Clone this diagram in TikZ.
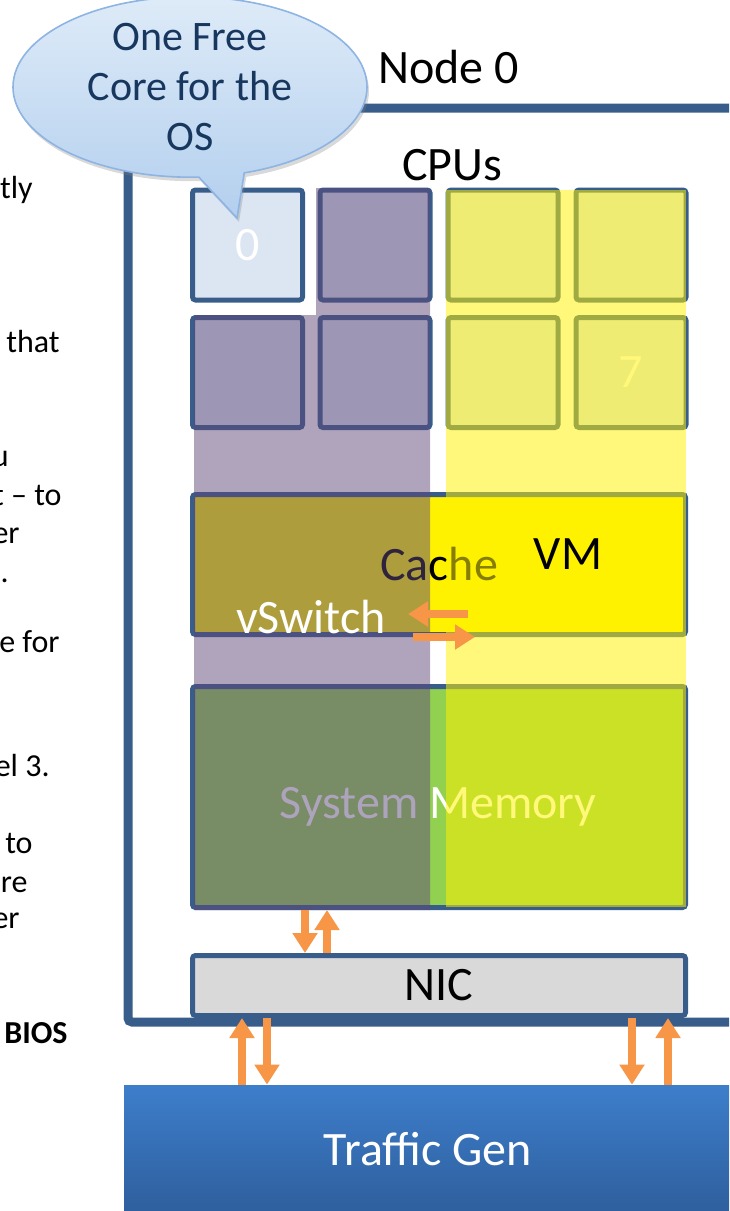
\documentclass[tikz,border=0pt]{standalone}
\usepackage{fontspec}
\setmainfont{Carlito}
\usetikzlibrary{shapes.callouts,shadows,arrows.meta}

\definecolor{frameblue}{HTML}{385D8A}
\definecolor{cpufill}{HTML}{DCE6F2}
\definecolor{vswpurple}{HTML}{5F497A}
\definecolor{memgreen}{HTML}{92D050}
\definecolor{nicgray}{HTML}{D9D9D9}
\definecolor{flow}{HTML}{F79646}
\definecolor{noteline}{HTML}{8EB4E3}
\definecolor{notetop}{HTML}{DEEBF8}
\definecolor{notebottom}{HTML}{B3CFEE}
\definecolor{notetext}{HTML}{17375E}
\definecolor{gentop}{HTML}{3D7ECB}
\definecolor{genbottom}{HTML}{2E5E9C}

\tikzset{
  bigtext/.style={font=\fontsize{24}{29}\selectfont, inner sep=0pt},
  sidetext/.style={font=\fontsize{16}{19}\selectfont, anchor=base east, inner sep=0pt},
  cpubox/.style={draw=frameblue, fill=cpufill, line width=2.5pt, rounded corners=1.5pt,
    minimum width=55pt, minimum height=55pt, bigtext, text=white},
  unitbox/.style={draw=frameblue, line width=2.5pt, rounded corners=1.5pt,
    minimum width=246.5pt, bigtext},
  flowarrow/.style={draw=flow, line width=4pt, -{Triangle[width=12pt,length=10pt]}},
}

\begin{document}
\begin{tikzpicture}[x=0.5pt,y=-0.5pt]
\useasboundingbox (0,0) rectangle (729,1211);
\clip (0,0) rectangle (729,1211);

% text running in from the left
\node[sidetext] (frag1) at (33,198) {tly};
\node[sidetext] (frag2) at (60,352) {that};
\node[sidetext] (frag3) at (9,466) {u};
\node[sidetext] (frag4) at (62,505) {t -- to};
\node[sidetext] (frag5) at (20,543) {er};
\node[sidetext] (frag6) at (9,582) {.};
\node[sidetext] (frag7) at (60,652) {e for};
\node[sidetext] (frag8) at (50,776) {el 3.};
\node[sidetext] (frag9) at (33,853) {to};
\node[sidetext] (frag10) at (28,892) {are};
\node[sidetext] (frag11) at (20,928) {er};
\node[sidetext, font=\fontsize{16}{19}\selectfont\bfseries] (frag12) at (68,1043) {BIOS};

% node 0 frame
\draw[frameblue, line width=4.5pt, rounded corners=2pt] (760,108) -- (128,108) -- (128,1022) -- (760,1022);
\node[bigtext, anchor=base west] (nodelabel) at (378,83) {Node 0};
\node[bigtext, anchor=base] (cpus) at (452,180) {CPUs};

% traffic generator
\node[minimum width=318pt, minimum height=65pt, top color=gentop, bottom color=genbottom] (tgen) at (442,1150) {};
\node[bigtext, text=white, anchor=base] (tgenlabel) at (428,1165) {Traffic Gen};

% cores
\node[cpubox] (cpu0) at (247.5,245) {0};
\node[cpubox] (cpu1) at (375,245) {};
\node[cpubox] (cpu2) at (503,245) {};
\node[cpubox] (cpu3) at (631,245) {};
\node[cpubox] (cpu4) at (247.5,372.5) {};
\node[cpubox] (cpu5) at (375,372.5) {};
\node[cpubox] (cpu6) at (503,372.5) {};
\node[cpubox] (cpu7) at (631,372.5) {7};

\node[unitbox, fill=yellow, minimum height=70pt] (cache) at (439,564.5) {Cache};
\node[unitbox, fill=memgreen, minimum height=110.5pt] (mem) at (439,797) {};
\node[bigtext, text=white, anchor=base] (memlabel) at (438,818) {System Memory};
\node[unitbox, fill=nicgray, minimum height=30pt] (nic) at (439,985.5) {NIC};

% vSwitch and VM shares
\fill[vswpurple, opacity=0.5] (316,188) -- (430,188) -- (430,910) -- (194,910) -- (194,315) -- (316,315) -- cycle;
\fill[yellow, opacity=0.52] (446,190) rectangle (686,907);

\node[bigtext, anchor=base] (vm) at (568,569) {VM};
\node[bigtext, text=white, anchor=base] (vswitch) at (311,633) {vSwitch};

% packet flow
\coordinate (vmout) at (468,614);
\coordinate (swin) at (408,614);
\coordinate (swout) at (413,637);
\coordinate (vmin) at (475,637);
\draw[flowarrow] (vmout) -- (swin);
\draw[flowarrow] (swout) -- (vmin);

\coordinate (m1) at (305,0);
\coordinate (m2) at (327,0);
\coordinate (t1) at (242,0);
\coordinate (t2) at (267,0);
\coordinate (t3) at (632,0);
\coordinate (t4) at (668,0);
\draw[flowarrow] (m1 |- mem.south) -- (m1 |- nic.north);
\draw[flowarrow] (m2 |- nic.north) -- (m2 |- mem.south);
\draw[flowarrow] (t1 |- tgen.north) -- (t1 |- nic.south);
\draw[flowarrow] (t2 |- nic.south) -- (t2 |- tgen.north);
\draw[flowarrow] (t3 |- nic.south) -- (t3 |- tgen.north);
\draw[flowarrow] (t4 |- tgen.north) -- (t4 |- nic.south);

% callout
\coordinate (tip) at (237,218);
\node[ellipse callout, draw=noteline, line width=0.8pt, top color=notetop, bottom color=notebottom,
  minimum width=177pt, minimum height=79pt, inner sep=0pt, align=center, text=notetext,
  font=\fontsize{21}{25}\selectfont, callout absolute pointer={(tip)},
  drop shadow={opacity=0.3, shadow xshift=1pt, shadow yshift=-2pt}] (note) at (190,87) {One Free\\Core for the\\OS};
\end{tikzpicture}
\end{document}
